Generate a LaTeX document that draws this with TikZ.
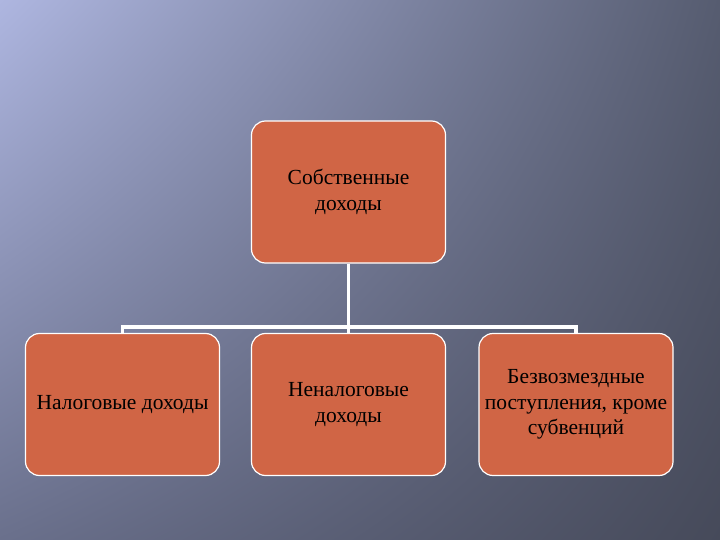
\documentclass[tikz,border=0pt]{standalone}
\usepackage{fontspec}
\setmainfont{Liberation Serif}
\usetikzlibrary{shadings}
\definecolor{boxfill}{HTML}{D06545}
\definecolor{tl}{HTML}{AEB6E0}
\definecolor{tr}{HTML}{565C70}
\definecolor{bl}{HTML}{6A708C}
\definecolor{br}{HTML}{464A5A}
\begin{document}
\begin{tikzpicture}[x=1pt,y=-1pt,
  box/.style={draw=white,line width=1.2pt,fill=boxfill,rounded corners=14pt,align=center,
    minimum width=194pt,minimum height=142pt,font=\fontsize{21.5}{25.5}\selectfont,text=black,inner sep=2pt},
  conn/.style={draw=white,line width=3.5pt}]
\shade[upper left=tl,upper right=tr,lower left=bl,lower right=br] (0,0) rectangle (720,540);
\useasboundingbox (0,0) rectangle (720,540);
\node[box] (top) at (348.5,192) {Собственные\\доходы};
\node[box] (a) at (122.5,404.5) {Налоговые доходы};
\node[box] (b) at (348.5,404.5) {Неналоговые\\доходы};
\node[box] (c) at (576,404.5) {Безвозмездные\\поступления, кроме\\субвенций};
\coordinate (h) at (348.5,327);
\draw[conn] (top.south) -- (h);
\draw[conn] (a.north) |- (h) -| (c.north);
\draw[conn] (h) -- (b.north);
\end{tikzpicture}
\end{document}
